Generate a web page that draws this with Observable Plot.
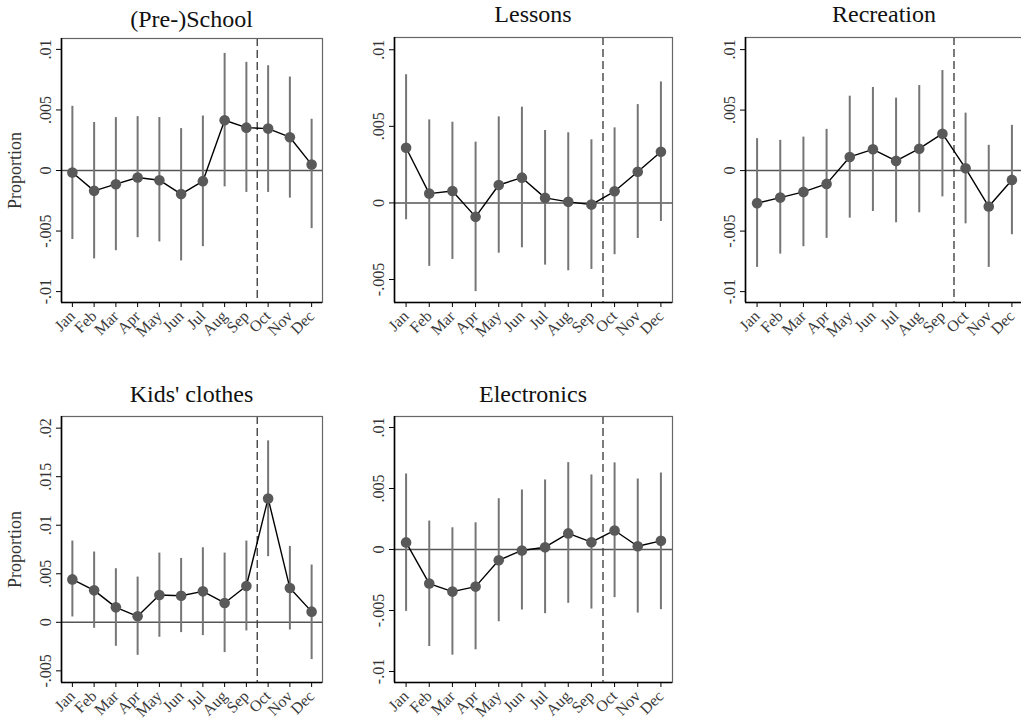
<!DOCTYPE html>
<html>
<head>
<meta charset="utf-8">
<script src="https://cdn.jsdelivr.net/npm/d3@7"></script>
<script src="https://cdn.jsdelivr.net/npm/@observablehq/plot@0.6"></script>
<style>
  html, body { margin: 0; padding: 0; background: #fff; }
  #wrap { position: relative; width: 1021px; height: 723px; overflow: hidden; background: #fff; }
  .panel { position: absolute; }
  .title { position: absolute; text-align: center; font-family: "Liberation Serif", "DejaVu Serif", serif;
           font-size: 24px; line-height: 24px; color: #111; white-space: nowrap; }
</style>
</head>
<body>
<div id="wrap"></div>
<script>
// ---------- data ----------
const months = ["Jan","Feb","Mar","Apr","May","Jun","Jul","Aug","Sep","Oct","Nov","Dec"];
const breakAfter = "Sep";

const schoolEst = [-0.00016,-0.00168,-0.00113,-0.00058,-0.0008,-0.00195,-0.00088,0.00415,0.00354,0.00346,0.00275,0.00049];
const schoolHi  = [0.0053,0.00396,0.00437,0.00445,0.00437,0.00346,0.0045,0.00967,0.00893,0.00865,0.00772,0.00423];
const schoolLo  = [-0.0057,-0.0073,-0.00662,-0.00555,-0.0059,-0.00747,-0.00629,-0.00135,-0.00181,-0.00181,-0.00228,-0.0048];

const lessonsEst = [0.0036,0.00061,0.00078,-0.00091,0.00117,0.00165,0.00033,0.00007,-0.00011,0.00076,0.00204,0.00334];
const lessonsHi  = [0.00837,0.00542,0.00527,0.00397,0.00562,0.00625,0.00473,0.00458,0.00412,0.0049,0.00642,0.0079];
const lessonsLo  = [-0.0011,-0.00414,-0.00369,-0.00579,-0.00328,-0.00293,-0.00406,-0.00443,-0.00434,-0.00338,-0.00232,-0.00121];

const recEst = [-0.00269,-0.00223,-0.00176,-0.0011,0.00113,0.00176,0.0008,0.00181,0.00305,0.00019,-0.00297,-0.00077];
const recHi  = [0.00264,0.0025,0.00277,0.00341,0.00615,0.00687,0.00599,0.00703,0.00827,0.00475,0.00209,0.00374];
const recLo  = [-0.008,-0.0069,-0.00629,-0.0056,-0.00393,-0.00338,-0.00431,-0.00349,-0.00217,-0.0044,-0.008,-0.0053];

const kidsEst = [0.00442,0.00329,0.00154,0.00062,0.00281,0.00274,0.00319,0.00199,0.00374,0.01276,0.00353,0.0011];
const kidsHi  = [0.00837,0.00724,0.00552,0.00466,0.00713,0.00658,0.00768,0.00713,0.00837,0.01869,0.00782,0.0059];
const kidsLo  = [0.00055,-0.00062,-0.00247,-0.0034,-0.00154,-0.00106,-0.00137,-0.00312,-0.00089,0.00676,-0.00079,-0.00384];

const elecEst = [0.00058,-0.00279,-0.00345,-0.00304,-0.00088,-0.00008,0.00019,0.00132,0.0006,0.00156,0.00027,0.00071];
const elecHi  = [0.00619,0.00233,0.00178,0.00219,0.00416,0.00488,0.0057,0.00712,0.00611,0.0071,0.00578,0.00627];
const elecLo  = [-0.00507,-0.00795,-0.00866,-0.00822,-0.00592,-0.00496,-0.00526,-0.00441,-0.00488,-0.00395,-0.00521,-0.00493];

const ticksA = [-0.01,-0.005,0,0.005,0.01];
const ticksL = [-0.005,0,0.005,0.01];
const ticksK = [-0.005,0,0.005,0.01,0.015,0.02];

// ---------- helpers ----------
const fmt = d => d === 0 ? "0" : String(d).replace(/^(-?)0\./, "$1.");
const monthIdx = months.map((m, i) => i + 1);
const xDomain = [0.5, months.length + 0.5];
const breakPos = months.indexOf(breakAfter) + 1.5;
const FONT = '"Liberation Serif", "DejaVu Serif", serif';

function panel({title, est, lo, hi, yDomain, yTicks, ylabel, left, top, width, height, mL, mR, mT, mB, titleTop}) {
  const data = months.map((m, i) => ({m: i + 1, est: est[i], lo: lo[i], hi: hi[i]}));
  const chart = Plot.plot({
    width, height,
    marginLeft: mL, marginRight: mR, marginTop: mT, marginBottom: mB,
    style: {fontFamily: FONT, fontSize: "16px", color: "#222", background: "#fff", overflow: "visible"},
    x: {type: "linear", domain: xDomain},
    y: {domain: yDomain},
    marks: [
      Plot.axisX({ticks: monthIdx, tickFormat: i => months[i - 1], tickRotate: -45, tickSize: 5, tickPadding: 6, label: null, stroke: "#000", fill: "#3a3a3a", fontSize: 16}),
      Plot.axisY({ticks: yTicks, tickFormat: fmt, tickRotate: -90, tickSize: 5, tickPadding: 6, label: null, stroke: "#000", fill: "#333", fontSize: 16}),
      Plot.ruleY([0], {stroke: "#555", strokeWidth: 1.5}),
      Plot.ruleX([breakPos], {stroke: "#444", strokeWidth: 1.4, strokeDasharray: "8,4"}),
      Plot.ruleX(data, {x: "m", y1: "lo", y2: "hi", stroke: "#767676", strokeWidth: 2}),
      Plot.line(data, {x: "m", y: "est", stroke: "#000", strokeWidth: 1.4}),
      Plot.dot(data, {x: "m", y: "est", r: 5.3, fill: "#595959", stroke: "none"}),
      Plot.frame({stroke: "#666", strokeWidth: 1.2}),
      Plot.ruleX([xDomain[0]], {stroke: "#000", strokeWidth: 1.6}),
      Plot.ruleY([yDomain[0]], {stroke: "#000", strokeWidth: 1.6}),
      ylabel ? Plot.text([ylabel], {frameAnchor: "left", textAnchor: "middle", dx: -mL + 15, rotate: -90, fontSize: 18, fill: "#333", text: d => d}) : null
    ]
  });
  chart.classList.add("panel");
  chart.style.left = left + "px";
  chart.style.top = top + "px";
  const wrap = document.getElementById("wrap");
  wrap.appendChild(chart);
  const t = document.createElement("div");
  t.className = "title";
  t.textContent = title;
  t.style.left = (left + mL) + "px";
  t.style.width = (width - mL - mR) + "px";
  t.style.top = titleTop + "px";
  wrap.appendChild(t);
}

panel({title: "(Pre-)School", est: schoolEst, lo: schoolLo, hi: schoolHi, yDomain: [-0.0109, 0.0109], yTicks: ticksA, ylabel: "Proportion",
       left: 0, top: 0, width: 340, height: 360, mL: 61, mR: 18, mT: 38, mB: 58, titleTop: 7});
panel({title: "Lessons", est: lessonsEst, lo: lessonsLo, hi: lessonsHi, yDomain: [-0.0065, 0.0108], yTicks: ticksL, ylabel: null,
       left: 340, top: 0, width: 340, height: 360, mL: 54, mR: 8, mT: 37, mB: 58, titleTop: 1.5});
panel({title: "Recreation", est: recEst, lo: recLo, hi: recHi, yDomain: [-0.0109, 0.0110], yTicks: ticksA, ylabel: null,
       left: 680, top: 0, width: 343, height: 360, mL: 65, mR: 0, mT: 37, mB: 58, titleTop: 1.5});
panel({title: "Kids' clothes", est: kidsEst, lo: kidsLo, hi: kidsHi, yDomain: [-0.0062, 0.0212], yTicks: ticksK, ylabel: "Proportion",
       left: 0, top: 370, width: 340, height: 353, mL: 61, mR: 18, mT: 46, mB: 41, titleTop: 381.5});
panel({title: "Electronics", est: elecEst, lo: elecLo, hi: elecHi, yDomain: [-0.0109, 0.0109], yTicks: ticksA, ylabel: null,
       left: 340, top: 370, width: 340, height: 353, mL: 54, mR: 8, mT: 46, mB: 41, titleTop: 381.5});
</script>
</body>
</html>
